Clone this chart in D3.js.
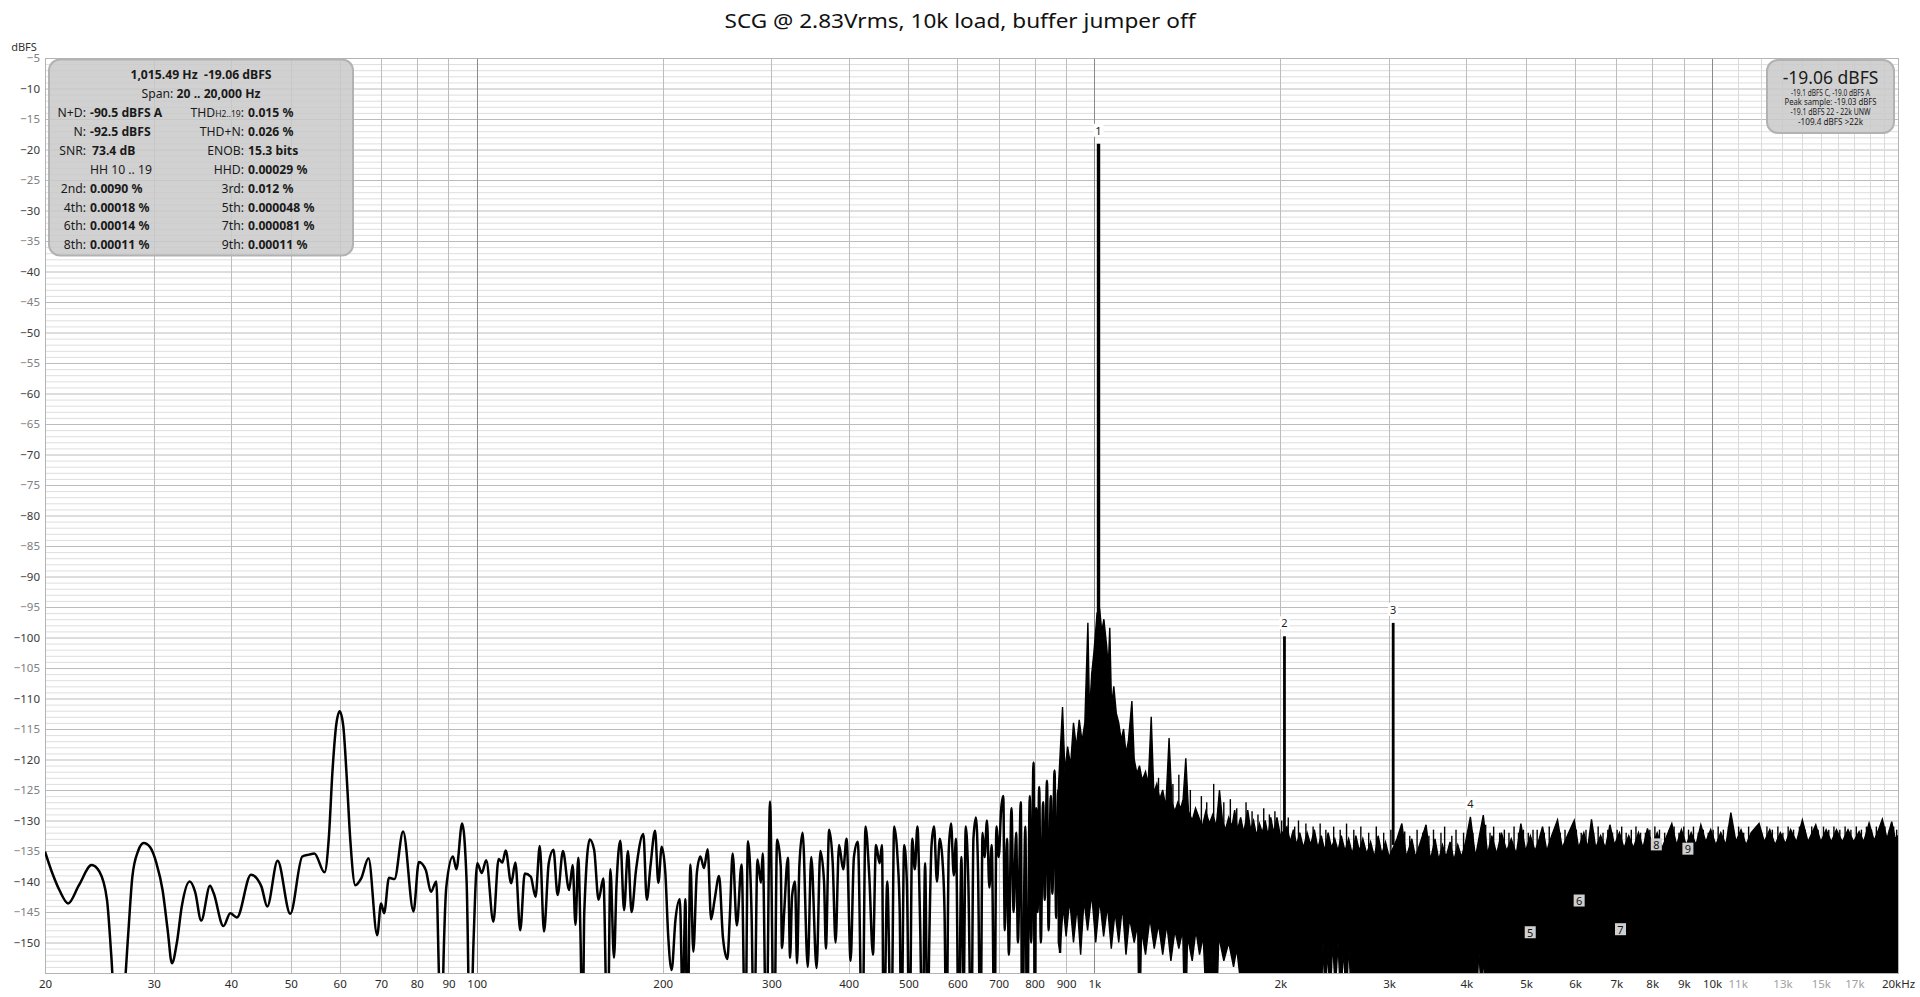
<!DOCTYPE html>
<html><head><meta charset="utf-8">
<script src="https://cdn.jsdelivr.net/npm/d3@7"></script>
<style>
html,body{margin:0;padding:0;background:#fff;}
svg{display:block;font-family:"Noto Sans","Open Sans",sans-serif;}
.pre{white-space:pre;}
</style></head><body>
<svg id="chart" width="1920" height="997"></svg>
<script>
// ---------- DATA ----------
const chartTitle = "SCG @ 2.83Vrms, 10k load, buffer jumper off";
const yUnit = "dBFS";
const yTickValues = [-5,-10,-15,-20,-25,-30,-35,-40,-45,-50,-55,-60,-65,-70,-75,-80,-85,-90,-95,-100,-105,-110,-115,-120,-125,-130,-135,-140,-145,-150];
const xTickValues = [20,30,40,50,60,70,80,90,100,200,300,400,500,600,700,800,900,1000,2000,3000,4000,5000,6000,7000,8000,9000,10000,11000,13000,15000,17000,20000];
const xTickLabels = ["20","30","40","50","60","70","80","90","100","200","300","400","500","600","700","800","900","1k","2k","3k","4k","5k","6k","7k","8k","9k","10k","11k","13k","15k","17k","20kHz"];
const xFaintLabels = ["11k","13k","15k","17k"];
const gridFreq = [30,40,50,60,70,80,90,100,200,300,400,500,600,700,800,900,1000,2000,3000,4000,5000,6000,7000,8000,9000,10000,11000,12000,13000,14000,15000,16000,17000,18000,19000];
const gridDark = [100,1000,10000];
const gridFaint = [11000,12000,13000,14000,15000,16000,17000,18000,19000];

// low-frequency trace (Hz, dBFS)
const lineFreq = [20,20.6,21.1,21.8,22.7,23.8,24.5,25.2,25.6,26.2,26.8,27.3,27.7,28.3,28.9,29.6,30.3,31.0,31.6,32.1,32.7,33.3,34.3,35.0,35.8,37.0,37.5,38.9,39.9,40.9,43.1,44.8,45.8,47.6,49.9,52.2,53.5,54.6,56.7,57.6,58.4,59.2,60.0,60.8,61.6,62.4,63.6,65.0,66.8,69.0,70.0,70.8,72.1,73.6,76.0,79.0,80.6,82.7,84.3,86.0,86.9,87.7,88.4,89.3,91.5,92.7,94.7,96.3,97.6,98.8,100.2,101.9,103.6,106.4,108.5,110,111.4,113.7,115.5,117.6,119.6,122.3,124.5,126.5,128.5,130.8,133.1,135.2,137.9,141.1,143,144.5,146,147.3,148.4,149.3,152.4,154.9,157.5,160.3,162.9,164.6,166.8,168.4,170.8,173.2,175.7,178.1,181.1,186.1,188.5,191.1,194.4,196.8,199.3,202,204.2,206.8,209.8,213.2,215.5,217.7,219.2,221.8,224.2,227.2,230.2,233.3,236.5,239.6,242.8,246.8,250.4,254.5,257,259.6,263.7,268.4,272.2,274.8,278.6,281.1,284.8,288.5,290.4,294.4,298.4,303,306.4,310.6,312,314.6,319,321.6,324,327.6,330,333,337,343.5,348,355,360,365,367.5,372,377,381,386,392,397,403,408,414,421,426,432,438,443,449,453,456,462,469,474,480,484,487,492,497,502,507,512,517,522,527,532,537,540,545,550,556,562,568,572,576,581,586,592,597,603,609,614,619,625,632,637,643,648,654,659,664,670,676,682,689,694,700,706,712,716,722,727,734,740,747,752,760,764,773,778,786,790,797,801,805,809,814,819,826,831,838,843,850,855,862,867,874,880];
const lineDb = [-135.1,-138.9,-141.4,-143.6,-140.6,-137.3,-138.4,-143,-152,-168,-160,-148,-139.2,-135,-133.7,-134.4,-137,-141.4,-148,-153.4,-150,-144.1,-140,-141.7,-146.4,-140.7,-141.9,-147.3,-145.2,-145.9,-138.9,-140.8,-144.1,-136.6,-145.3,-135.9,-135.6,-135.4,-138.5,-133,-122,-114.5,-112.1,-114.5,-123,-133,-140.6,-139.5,-136.2,-148.8,-143.6,-145.2,-139.4,-139.6,-131.8,-144.9,-136.8,-138.1,-141.7,-140,-156,-168,-152,-140.8,-135.9,-138,-130.5,-140,-168,-150,-137,-138.6,-136.5,-146.6,-136.3,-136.9,-134.9,-140.3,-136.9,-148,-138.7,-139.2,-142.5,-134.2,-148.2,-137,-134.8,-142.2,-135,-141.4,-137.3,-147.1,-136.1,-150,-168,-145.2,-133.1,-134.8,-143,-139.5,-168,-138,-152.5,-140.5,-133.3,-144.7,-135,-145,-138.1,-132.2,-143,-137.5,-131.7,-140.2,-134.3,-138.6,-149,-154.5,-146.2,-142.9,-160,-142.9,-168,-137.2,-151.5,-138.6,-135.9,-137.8,-134.7,-146.2,-142.9,-139.1,-149.2,-152.7,-145.4,-135.4,-147.2,-137.2,-168,-133.4,-145.4,-168,-136.4,-140.2,-135.4,-168,-126.9,-168,-133.1,-137.5,-150.9,-145,-136.1,-152.5,-142.4,-140,-153.4,-137.2,-132,-154,-136,-154.2,-135,-140,-151,-131.5,-137,-150,-134,-138,-133,-153,-136,-133.5,-168,-131,-139,-152,-134,-137,-134,-168,-140,-168,-131,-136,-145,-168,-134,-140,-168,-133,-138,-131,-146,-168,-137,-168,-151.5,-134,-131,-140,-133,-137,-145,-168,-135,-130.5,-139,-133,-168,-136,-160,-131,-140,-168,-133,-129.5,-138,-168,-132,-136,-130,-141,-134,-168,-131,-136,-128.5,-126,-148,-133,-152,-128,-145,-132,-150,-127,-168,-131,-168,-126,-150,-120.5,-168,-128,-145,-124.5,-150,-127,-143,-123.5,-148,-126,-142,-121.8,-146,-125,-151.7];

// dense noise band: upper edge (Hz, dBFS)
const bandTopFreq = [874,888,896,905,915,925,935,945,955,965,976,982,990,998,1005,1010,1020,1028,1036,1047,1053,1059,1066,1075,1085,1095,1105,1115,1125,1135,1150,1160,1172,1183,1195,1210,1222,1236,1248,1262,1276,1290,1305,1321,1335,1350,1365,1380,1392,1406,1420,1440,1458,1475,1495,1515,1535,1555,1575,1594,1612,1630,1650,1670,1687,1705,1725,1745,1771,1790,1810,1830,1850,1870,1890,1910,1930,1950,1975,2000,2050,2075,2100,2125,2150,2180,2210,2240,2270,2300,2330,2360,2390,2420,2450,2480,2510,2545,2580,2615,2650,2685,2720,2760,2800,2840,2880,2920,2960,3000,3090,3146,3200,3265,3310,3360,3443,3500,3560,3610,3660,3710,3765,3820,3875,3930,3990,4062,4140,4200,4262,4330,4400,4480,4560,4650,4730,4820,4903,4990,5080,5170,5250,5316,5400,5500,5621,5720,5830,5982,6080,6200,6290,6380,6480,6600,6720,6833,6950,7080,7200,7330,7460,7600,7730,7860,8000,8150,8300,8450,8606,8760,8920,9080,9250,9420,9590,9770,9950,10140,10330,10530,10726,10930,11140,11350,11570,11916,12150,12400,12650,12900,13150,13400,13700,14002,14300,14720,15000,15300,15600,15900,16250,16600,16950,17300,17600,17956,18300,18600,18866,19200,19536,19800,20000];
const bandTopDb = [-125,-111.4,-122,-117.9,-121,-114,-118,-113.5,-117,-114,-97.6,-112.4,-106,-102.5,-98.8,-96,-95.5,-99,-97,-101.5,-105,-98.4,-111.3,-108,-112.4,-114,-116.8,-115,-119,-117,-110.4,-120,-122.3,-121,-123.4,-122,-124,-113,-125.5,-124,-126.5,-125,-127.8,-116.5,-127,-128.5,-127,-128,-126.5,-119.8,-128.5,-130,-128,-129.4,-131,-128.5,-130.5,-129,-131,-125,-130,-131.5,-129.5,-131,-128.3,-131.5,-129.5,-132,-128.3,-131.5,-130,-132.5,-130.5,-132,-130,-132.5,-129.5,-132,-129.5,-132.5,-131,-133.5,-131.5,-134,-132,-134.5,-132,-134,-131.5,-134.5,-132.5,-135,-132,-134.5,-133,-135,-132.5,-135,-133,-135.5,-132.5,-135,-133,-135.5,-133.5,-136,-132.5,-135.5,-133.5,-136,-133,-130.5,-136,-133,-136,-134,-130.7,-136.5,-133,-136.5,-134,-136,-133.5,-136.5,-134,-136,-133.5,-129.4,-136,-132.5,-129.1,-135.5,-132.5,-135.5,-132,-135,-133,-135.5,-130.5,-135,-132.5,-135,-133,-131,-135,-132.5,-129.9,-134.5,-132.5,-130,-134.5,-132,-134.5,-129.8,-134.5,-132.5,-134.5,-130.7,-134,-132,-134.5,-132.5,-134.5,-132,-134.5,-131.3,-134,-132,-134.5,-132.5,-130.5,-134,-131.5,-134,-132,-134,-130.7,-133.5,-131.5,-134,-132,-134,-128.7,-133.5,-131.5,-134,-132,-130.5,-133.5,-131.5,-134,-132,-133.8,-131.5,-133.5,-129.9,-133.5,-130.7,-133.5,-131.5,-133.5,-131.5,-133.5,-131.5,-133.5,-131.8,-133.5,-130.4,-133.3,-131.5,-129.8,-133,-130.2,-133,-132.5];
// dense noise band: lower edge (Hz, dBFS)
const bandBotFreq = [874,880,890,900,912,925,938,950,962,975,990,1005,1020,1035,1050,1065,1080,1095,1110,1125,1140,1160,1175,1183,1192,1210,1230,1250,1270,1290,1310,1330,1350,1370,1390,1403,1415,1440,1460,1480,1500,1530,1550,1570,1590,1620,1650,1680,1700,1740,2330,2345,2365,2385,2410,2430,2455,2480,2505,2530,2560,2580,2600,2620,4100,4130,4160,4190,4230,4260,4300,20000];
const bandBotDb = [-150,-151.7,-144,-149,-143,-150,-144,-152,-143,-148,-142,-150,-143,-149,-144,-151,-145,-150,-144,-152,-146,-150,-147,-168,-148,-152,-146,-151,-147,-152,-147,-153,-148,-151,-148,-168,-149,-153,-148,-152,-149,-168,-152,-168,-149,-153,-150,-154,-151,-160,-160,-150,-160,-151,-160,-149.6,-158,-150,-160,-151,-160,-150,-157,-160,-160,-152,-160,-151,-158,-152,-160,-160];

// thin noise spikes above the band (Hz, dBFS)
const spikeFreq = [1230,1270,1340,1370,1430,1490,1520,1560,1620,1660,1700,1760,1800,1840,1880,1920,1960,2010,2060,2110,2140,2200,2260,2320,2370,2440,2500,2560,2630,2700,2780,2860,2940,3020,3120,3180,3240,3330,3400,3480,3540,3640,3690,3790,3850,3960,4100,4230,4300,4370,4430,4530,4610,4690,4780,4860,4950,5040,5130,5210,5350,5450,5560,5680,5780,5900,6030,6140,6250,6430,6540,6660,6780,6900,7020,7140,7260,7400,7530,7660,7800,7930,8080,8220,8380,8530,8680,8840,9000,9160,9330,9500,9680,9860,10040,10230,10430,10630,10830,11040,11250,11460,11700,11800,12030,12270,12520,12780,13020,13280,13550,13850,14150,14500,14850,15150,15450,15750,16100,16420,16780,17120,17450,17780,18120,18450,18740,19050,19370,19680,19900];
const spikeDb = [-121,-123,-124,-122.5,-125,-126,-127,-124,-127,-126.5,-128,-127,-128.5,-129,-128,-129,-128.5,-130,-129.5,-131,-130,-130.5,-131,-130.5,-131.5,-131,-131.5,-130.5,-131.5,-131,-132,-131,-132,-131.5,-132,-131.8,-132.5,-131.5,-132,-132.5,-131.5,-132,-131,-132.5,-131.5,-132,-132,-131.5,-130.7,-132,-131,-132,-131.5,-132,-131,-132,-131.5,-132,-131.5,-131.5,-132,-131,-131.5,-132,-131.5,-132,-131.5,-132,-131.5,-132,-131,-132,-131.5,-132,-131.5,-131,-132,-131.5,-131,-132,-132,-131.5,-131,-131.5,-132,-131.5,-131,-132,-131,-131.5,-131,-132,-131.5,-132,-131.5,-131,-131.5,-131,-131.5,-131,-132,-131,-131.5,-131,-132,-131,-131.5,-131,-132,-131,-131.5,-131,-131.5,-131,-131.5,-131,-131.5,-131,-131.5,-131,-131.5,-131,-131.5,-131,-131.5,-131,-131.5,-131,-131.5,-131,-131.5];
const spikeBase = -137;

// fundamental and harmonic peaks
const peakFreq = [1015.49,2031,3046];
const peakDb = [-19.06,-99.8,-97.6];
const peakBase = [-100,-134,-134];

// harmonic markers
const markText = ["1","2","3","4"];
const markFreq = [1015.49,2031,3046,4062];
const markDb = [-19.06,-99.8,-97.6,-129.4];
const boxText = ["5","6","7","8","9"];
const boxFreq = [5077,6093,7108,8124,9139];
const boxDb = [-148.4,-143.2,-147.9,-134.0,-134.7];

// info panels
const infoHead = "1,015.49 Hz  -19.06 dBFS";
const infoSpanLabel = "Span: ";
const infoSpanValue = "20 .. 20,000 Hz";
const infoLeftLabels = ["N+D:","N:","SNR:","","2nd:","4th:","6th:","8th:"];
const infoLeftValues = ["-90.5 dBFS A","-92.5 dBFS","73.4 dB","HH 10 .. 19","0.0090 %","0.00018 %","0.00014 %","0.00011 %"];
const infoRightLabels = ["THD","THD+N:","ENOB:","HHD:","3rd:","5th:","7th:","9th:"];
const infoRightValues = ["0.015 %","0.026 %","15.3 bits","0.00029 %","0.012 %","0.000048 %","0.000081 %","0.00011 %"];
const levelMain = "-19.06 dBFS";
const levelLines = ["-19.1 dBFS C, -19.0 dBFS A","Peak sample: -19.03 dBFS","-19.1 dBFS 22 - 22k UNW","-109.4 dBFS >22k"];

// ---------- CHART ----------
const L=45, R=1898, T=58, B=973;
const x = d3.scaleLog().domain([20,20000]).range([L,R]);
const y = d3.scaleLinear().domain([-5,-155]).range([T,B]);
const svg = d3.select("#chart");

svg.append("defs").append("clipPath").attr("id","clip")
  .append("rect").attr("x",L).attr("y",T).attr("width",R-L).attr("height",B-T);

// grid
const g = svg.append("g");
g.selectAll("line.hmin").data(d3.range(-6,-155,-1).filter(v=>v%5!==0)).join("line")
  .attr("x1",L).attr("x2",R).attr("y1",d=>y(d)+0.5).attr("y2",d=>y(d)+0.5)
  .attr("stroke","#dedede").attr("stroke-width",1);
g.selectAll("line.hmaj").data(d3.range(-10,-155,-5)).join("line")
  .attr("x1",L).attr("x2",R).attr("y1",d=>y(d)+0.5).attr("y2",d=>y(d)+0.5)
  .attr("stroke","#bcbcbc").attr("stroke-width",1);
g.selectAll("line.v").data(gridFreq).join("line")
  .attr("x1",d=>Math.round(x(d))+0.5).attr("x2",d=>Math.round(x(d))+0.5).attr("y1",T).attr("y2",B)
  .attr("stroke",d=>gridDark.includes(d)?"#8a8a8a":(gridFaint.includes(d)?"#dadada":"#bdbdbd"))
  .attr("stroke-width",1);
g.append("rect").attr("x",L+0.5).attr("y",T+0.5).attr("width",R-L).attr("height",B-T)
  .attr("fill","none").attr("stroke","#b4b4b4");

// traces
const plot = svg.append("g").attr("clip-path","url(#clip)");
plot.selectAll("line.spk").data(spikeFreq).join("line")
  .attr("x1",d=>x(d)).attr("x2",d=>x(d)).attr("y1",y(spikeBase)).attr("y2",(d,i)=>y(spikeDb[i]))
  .attr("stroke","#000").attr("stroke-width",1.4);
const bandPts = bandTopFreq.map((f,i)=>[f,bandTopDb[i]])
  .concat(bandBotFreq.map((f,i)=>[f,bandBotDb[i]]).reverse());
plot.append("path").attr("d", d3.line().x(d=>x(d[0])).y(d=>y(d[1])).curve(d3.curveLinearClosed)(bandPts))
  .attr("fill","#000").attr("stroke","#000").attr("stroke-width",1.4).attr("stroke-linejoin","miter");
const linePts = lineFreq.map((f,i)=>[f,lineDb[i]]);
plot.append("path").attr("d", d3.line().x(d=>x(d[0])).y(d=>y(d[1])).curve(d3.curveMonotoneX)(linePts))
  .attr("fill","none").attr("stroke","#000").attr("stroke-width",2.5).attr("stroke-linejoin","round");
plot.selectAll("line.peak").data(peakFreq).join("line")
  .attr("x1",d=>x(d)).attr("x2",d=>x(d))
  .attr("y1",(d,i)=>y(peakBase[i])).attr("y2",(d,i)=>y(peakDb[i]))
  .attr("stroke","#000").attr("stroke-width",(d,i)=>i===0?3.4:2.8);

// harmonic markers
const mk = svg.append("g").attr("font-size",11).attr("fill","#222");
markText.forEach((t,i)=>{
  const cx=x(markFreq[i]), cy=y(markDb[i])-13;
  mk.append("rect").attr("x",cx-5).attr("y",cy-7).attr("width",10).attr("height",13).attr("fill","#fff");
  mk.append("text").attr("x",cx).attr("y",cy+4).attr("text-anchor","middle").text(t);
});
boxText.forEach((t,i)=>{
  const cx=x(boxFreq[i]), cy=y(boxDb[i]);
  mk.append("rect").attr("x",cx-5.5).attr("y",cy-6.5).attr("width",11).attr("height",12).attr("fill","#cfcfcf");
  mk.append("text").attr("x",cx).attr("y",cy+4).attr("text-anchor","middle").attr("fill","#111").text(t);
});

// axes
const yAx = svg.append("g").attr("transform",`translate(${L},0)`)
  .call(d3.axisLeft(y).tickValues(yTickValues).tickSize(0).tickPadding(5));
yAx.select(".domain").remove();
yAx.selectAll("text").attr("font-family","Noto Sans").attr("font-size",11.5)
  .attr("fill",d=>d%10===0?"#3a3a3a":"#808080");
const xAx = svg.append("g").attr("transform",`translate(0,${B})`)
  .call(d3.axisBottom(x).tickValues(xTickValues).tickFormat((d,i)=>xTickLabels[i]).tickSize(0).tickPadding(7));
xAx.select(".domain").remove();
xAx.selectAll("text").attr("font-family","Noto Sans").attr("font-size",11.5)
  .attr("fill",(d,i)=>xFaintLabels.includes(xTickLabels[i])?"#a0a0a0":"#2a2a2a");

svg.append("text").attr("x",24).attr("y",50.5).attr("text-anchor","middle")
  .attr("font-size",11).attr("fill","#333").text(yUnit);
svg.append("text").attr("x",960).attr("y",28).attr("text-anchor","middle")
  .attr("font-size",20).attr("fill","#111").attr("textLength",471).attr("lengthAdjust","spacingAndGlyphs")
  .text(chartTitle);

// left info panel
const ip = svg.append("g");
ip.append("rect").attr("x",49).attr("y",59.5).attr("width",304).attr("height",196).attr("rx",11)
  .attr("fill","#c9c9c9").attr("fill-opacity",0.85).attr("stroke","#b2b2b2").attr("stroke-width",2);
const it = ip.append("g").attr("font-size",12.2).attr("fill","#1a1a1a");
it.append("text").attr("class","pre").attr("x",201).attr("y",79).attr("text-anchor","middle")
  .attr("font-weight","bold").text(infoHead);
const sp = it.append("text").attr("class","pre").attr("x",201).attr("y",97.5).attr("text-anchor","middle");
sp.append("tspan").text(infoSpanLabel);
sp.append("tspan").attr("font-weight","bold").text(infoSpanValue);
infoLeftLabels.forEach((lab,i)=>{
  const by = 117 + i*18.9;
  it.append("text").attr("x",86).attr("y",by).attr("text-anchor","end").text(lab);
  it.append("text").attr("x",i===2?92:90).attr("y",by)
    .attr("font-weight",i===3?"normal":"bold").text(infoLeftValues[i]);
  const rt = it.append("text").attr("x",244).attr("y",by).attr("text-anchor","end");
  if(i===0){ rt.append("tspan").text("THD"); rt.append("tspan").attr("font-size",8.5).text("H2..19"); rt.append("tspan").text(":"); }
  else rt.text(infoRightLabels[i]);
  it.append("text").attr("x",248).attr("y",by).attr("font-weight","bold").text(infoRightValues[i]);
});

// right level panel
const lp = svg.append("g");
lp.append("rect").attr("x",1767).attr("y",60).attr("width",127).attr("height",73).attr("rx",11)
  .attr("fill","#c9c9c9").attr("fill-opacity",0.85).attr("stroke","#b2b2b2").attr("stroke-width",2);
lp.append("text").attr("x",1830.5).attr("y",83.5).attr("text-anchor","middle").attr("font-size",17.5)
  .attr("fill","#1a1a1a").text(levelMain);
const levelWidths = [79,92,80,65];
levelLines.forEach((t,i)=>{
  lp.append("text").attr("x",1830.5).attr("y",95.5+i*9.7).attr("text-anchor","middle")
    .attr("font-size",8.6).attr("fill","#1a1a1a")
    .attr("textLength",levelWidths[i]).attr("lengthAdjust","spacingAndGlyphs").text(t);
});
</script>
</body></html>
